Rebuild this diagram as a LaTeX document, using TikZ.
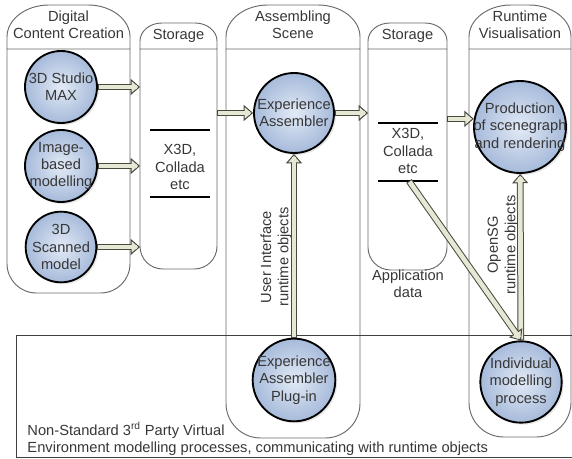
\documentclass[tikz,border=0pt]{standalone}
\usepackage{fontspec}
\setmainfont{Liberation Sans}
\usetikzlibrary{arrows.meta,shadows}

\definecolor{colline}{RGB}{105,105,105}
\definecolor{txtgray}{RGB}{55,55,55}
\definecolor{circin}{RGB}{226,234,246}
\definecolor{circout}{RGB}{166,186,218}
\definecolor{arrowfill}{RGB}{231,231,213}
\definecolor{arrowedge}{RGB}{72,72,62}

\tikzset{every picture/.style={line width=0.75pt}}
\tikzset{
  colshape/.style={draw=colline, line width=0.7pt},
  boxline/.style={draw=black!75, line width=0.7pt},
  datbar/.style={draw=black, line width=1.5pt},
  lbl/.style={text=txtgray, align=center, inner sep=0.75pt, font=\fontsize{11}{13}\selectfont},
  proc/.style={circle, draw=black, line width=1.4pt, inner sep=0pt, inner color=circin, outer color=circout,
    drop shadow={opacity=0.18, shadow xshift=1.5pt, shadow yshift=-1.5pt}},
  blockarrow/.style={draw=arrowedge, line width=5pt,
    -{Triangle[length=7pt,width=12pt,fill=arrowfill,line width=0.75pt]},
    postaction={draw=arrowfill, line width=3.5pt, -, shorten >=2.5pt, shorten <=0.75pt}}
}

\begin{document}
\begin{tikzpicture}[x=0.75pt,y=0.75pt,yscale=-1,xscale=1]
\useasboundingbox (0,0) rectangle (572,459);

%Shape: Column Digital Content Creation
\draw[colshape] (7,49) -- (7,37) arc[start angle=180, end angle=270, x radius=42, y radius=32] -- (88,5) arc[start angle=270, end angle=360, x radius=42, y radius=32] -- (130,49) -- cycle ;
\draw[colshape, rounded corners=22pt] (7,49) -- (7,293) -- (130,293) -- (130,49) ;
%Shape: Column Storage
\draw[colshape] (140,49) -- (140,41) arc[start angle=180, end angle=270, x radius=22, y radius=18] -- (195,23) arc[start angle=270, end angle=360, x radius=22, y radius=18] -- (217,49) -- cycle ;
\draw[colshape, rounded corners=17pt] (140,49) -- (140,269) -- (217,269) -- (217,49) ;
%Shape: Column Assembling Scene
\draw[colshape] (226,49) -- (226,37) arc[start angle=180, end angle=270, x radius=42, y radius=32] -- (318,5) arc[start angle=270, end angle=360, x radius=42, y radius=32] -- (360,49) -- cycle ;
\draw[colshape, rounded corners=26pt] (226,49) -- (226,438) -- (360,438) -- (360,49) ;
%Shape: Column Storage
\draw[colshape] (368,49) -- (368,41) arc[start angle=180, end angle=270, x radius=22, y radius=18] -- (425,23) arc[start angle=270, end angle=360, x radius=22, y radius=18] -- (447,49) -- cycle ;
\draw[colshape, rounded corners=17pt] (368,49) -- (368,270) -- (447,270) -- (447,49) ;
%Shape: Column Runtime Visualisation
\draw[colshape] (469,49) -- (469,37) arc[start angle=180, end angle=270, x radius=42, y radius=32] -- (529,5) arc[start angle=270, end angle=360, x radius=42, y radius=32] -- (571,49) -- cycle ;
\draw[colshape, rounded corners=26pt] (469,49) -- (469,437) -- (571,437) -- (571,49) ;

%Shape: Rectangle non-standard processes
\draw[boxline] (572,335) -- (16,335) -- (16,457.5) -- (572,457.5) ;

%Straight Lines data stores
\draw[datbar] (150,130) -- (210,130) ;
\draw[datbar] (150,197) -- (210,197) ;
\draw[datbar] (378,123) -- (438,123) ;
\draw[datbar] (378,181) -- (438,181) ;
\coordinate (etc2) at (409,181) ;
\coordinate (st1L) at (140,0) ;
\coordinate (st1R) at (217,0) ;
\coordinate (st2L) at (368,0) ;
\coordinate (st2R) at (447,0) ;

% Text Node
\node[lbl] (hdc) at (68.5,25) {Digital\\Content Creation};
\node[lbl] (hst1) at (178.5,36) {Storage};
\node[lbl] (has) at (293,25) {Assembling\\Scene};
\node[lbl] (hst2) at (407.5,36) {Storage};
\node[lbl] (hrv) at (520,25) {Runtime\\Visualisation};
\node[lbl] (fmt1) at (180,167) {X3D,\\Collada\\etc};
\node[lbl] (fmt2) at (408,151) {X3D,\\Collada\\etc};
\node[lbl] (appd) at (408,284) {Application\\data};
\node[lbl, rotate=90] (uiro) at (276,257) {User Interface\\runtime objects};
\node[lbl, rotate=90] (osg) at (503,245) {OpenSG\\runtime objects};
\node[lbl, anchor=west, align=left] (nsv) at (26,439) {Non-Standard 3\textsuperscript{rd} Party Virtual\\Environment modelling processes, communicating with runtime objects};

%Shape: Circle processes
\node[proc, minimum size=54pt, label={[lbl]center:{3D Studio\\MAX}}] (max) at (61,87) {};
\node[proc, minimum size=54pt, label={[lbl]center:{Image-\\based\\modelling}}] (ibm) at (61,166) {};
\node[proc, minimum size=53pt, label={[lbl]center:{3D\\Scanned\\model}}] (scan) at (61,247) {};
\node[proc, minimum size=60pt, label={[lbl]center:{Experience\\Assembler}}] (ea) at (294,113) {};
\node[proc, minimum size=69pt, label={[lbl]center:{Production\\of scenegraph\\and rendering}}] (prod) at (520,127) {};
\node[proc, minimum size=62pt, label={[lbl]center:{Experience\\Assembler\\Plug-in}}] (plug) at (294,380) {};
\node[proc, minimum size=61pt, label={[lbl]center:{Individual\\modelling\\process}}] (ind) at (521,382) {};

%Block Arrows
\draw[blockarrow] (max) -- (max -| st1L) ;
\draw[blockarrow] (ibm) -- (ibm -| st1L) ;
\draw[blockarrow] (scan) -- (scan -| st1L) ;
\draw[blockarrow] (st1R |- ea) -- (ea) ;
\draw[blockarrow] (ea) -- (ea -| st2L) ;
\draw[blockarrow] (st2R |- prod.170) -- (prod.170) ;
\draw[blockarrow] (plug) -- (ea) ;
\draw[blockarrow] (ind) -- (prod) ;
\draw[blockarrow] (etc2) -- (ind.north) ;

\end{tikzpicture}
\end{document}
